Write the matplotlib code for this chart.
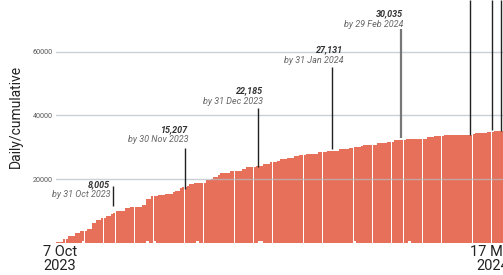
import matplotlib
matplotlib.use("Agg")
import matplotlib.pyplot as plt
import numpy as np

plt.rcParams['font.family'] = ['Roboto', 'DejaVu Sans']

# cumulative total per day, from 7 Oct 2023 (day 0)
cumulative = [
    280, 280, 280, 1040, 1040, 2075, 2075, 2075, 2925, 2925,
    3555, 3555, 3555, 4280, 4280, 6260, 6260, 7110, 7110, 7640,
    7640, 8365, 8365, 8900, 9400, 10030, 10030, 10030, 10030, 10790,
    10790, 11290, 11290, 11290, 11290, 11290, 11825, 11825, 13710, 13710,
    14655, 14655, 14655, 14970, 14970, 14970, 15285, 15285, 15285, 15915,
    16320, 16320, 17080, 17580, 17580, 17895, 18335, 18335, 18840, 18840,
    18840, 18840, 18840, 19690, 19690, 20100, 20730, 20730, 21260, 21795,
    21795, 21795, 21795, 22425, 22425, 22615, 22615, 22615, 23150, 23150,
    23680, 23680, 23680, 23680, 24090, 24090, 24090, 24720, 24720, 24720,
    25250, 25250, 25250, 25660, 26200, 26200, 26200, 26700, 26700, 26700,
    27140, 27140, 27550, 27550, 27550, 27865, 27865, 27865, 27865, 27865,
    28400, 28400, 28400, 28400, 28900, 28900, 28900, 28900, 28900, 29440,
    29440, 29440, 29440, 29850, 29850, 30160, 30160, 30160, 30380, 30790,
    30790, 30790, 30790, 30790, 30790, 31230, 31230, 31230, 31420, 31730,
    31730, 31730, 32170, 32170, 32170, 32170, 32170, 32580, 32580, 32580,
    32580, 32580, 32580, 32580, 32580, 32580, 33120, 33120, 33120, 33430,
    33430, 33430, 33430, 33840, 33840, 33840, 33935, 33935, 33935, 33935,
    33935, 33935, 33935, 33935, 33935, 34150, 34470, 34470, 34470, 34470,
    34470, 34780, 34780, 34780, 35100, 35100, 35100, 35100,
]

# daily spikes that show as small white marks at the bottom
daily_days = [11, 38, 41, 59, 85, 86, 125, 148]
daily_vals = [450, 500, 600, 450, 600, 500, 450, 450]

# monthly call-outs
annot_days = [24, 54, 85, 116, 145]
annot_values = ["8,005", "15,207", "22,185", "27,131", "30,035"]
annot_dates = ["by 31 Oct 2023", "by 30 Nov 2023", "by 31 Dec 2023",
               "by 31 Jan 2024", "by 29 Feb 2024"]
annot_top = [17800, 29750, 42300, 55200, 67080]
annot_bottom = [11510, 16860, 23780, 29440, 32900]
# text offsets from the line top, in pixels (dx, dy)
annot_offset = [(-3, -1), (4, 16), (5, 15), (11, 15), (2, 13)]

# later call-outs whose labels sit above the visible area
late_days = [174, 183.3, 186.8]
late_bottom = [33840, 35410, 35100]

tick_days = [1.7, 183.6]
tick_labels = ["7 Oct\n2023", "17 Mar\n2024"]

BAR = "#e7705a"
PX = 0.72  # points per pixel

fig = plt.figure(figsize=(5.03, 2.75), dpi=100)
ax = fig.add_axes([56 / 503, 32.4 / 275, 447 / 503, 242.6 / 275])

days = np.arange(len(cumulative))
ax.bar(days, cumulative, width=0.955, align='edge', color=BAR, linewidth=0, zorder=1)
ax.bar(daily_days, daily_vals, width=0.955, align='edge', color='white', linewidth=0, zorder=1.5)

ax.set_xlim(0, 187.8)
ax.set_ylim(0, 76290)

ax.set_yticks([20000, 40000, 60000])
ax.set_yticklabels(["20000", "40000", "60000"])
ax.tick_params(axis='y', length=0, pad=2.2, labelsize=5.2, labelcolor='#555555')
ax.yaxis.grid(True, color='#b4bcc4', linewidth=1, alpha=0.7, zorder=2)
ax.set_axisbelow(False)

ax.set_xticks(tick_days)
ax.set_xticklabels(tick_labels, fontsize=10.5, color='#222222', linespacing=1.0)
ax.tick_params(axis='x', length=0, pad=2)

for s in ax.spines.values():
    s.set_visible(False)

for i, d in enumerate(annot_days):
    if i == 4:
        ax.vlines(d, annot_bottom[i], annot_top[i], color='#777777', linewidth=1.6, zorder=3)
    else:
        ax.vlines(d, annot_bottom[i], annot_top[i], color='#222222', linewidth=1.0, zorder=3)
    dx, dy = annot_offset[i]
    ax.annotate(annot_values[i], xy=(d, annot_top[i]), xytext=(dx * PX, dy * PX),
                textcoords='offset points', ha='right', va='baseline',
                fontsize=6.5, fontstyle='italic', fontweight='bold', color='#333333')
    ax.annotate(annot_dates[i], xy=(d, annot_top[i]), xytext=(dx * PX, (dy - 10.5) * PX),
                textcoords='offset points', ha='right', va='baseline',
                fontsize=6.5, fontstyle='italic', color='#666666')

for d, b in zip(late_days, late_bottom):
    ax.vlines(d, b, 76290, color='#222222', linewidth=1.0, zorder=3)

fig.text(16 / 503, 1 - 116 / 275, "Daily/cumulative", rotation=90,
         ha='center', va='center', fontsize=10, color='#222222')

fig.savefig("out.png", dpi=100)
